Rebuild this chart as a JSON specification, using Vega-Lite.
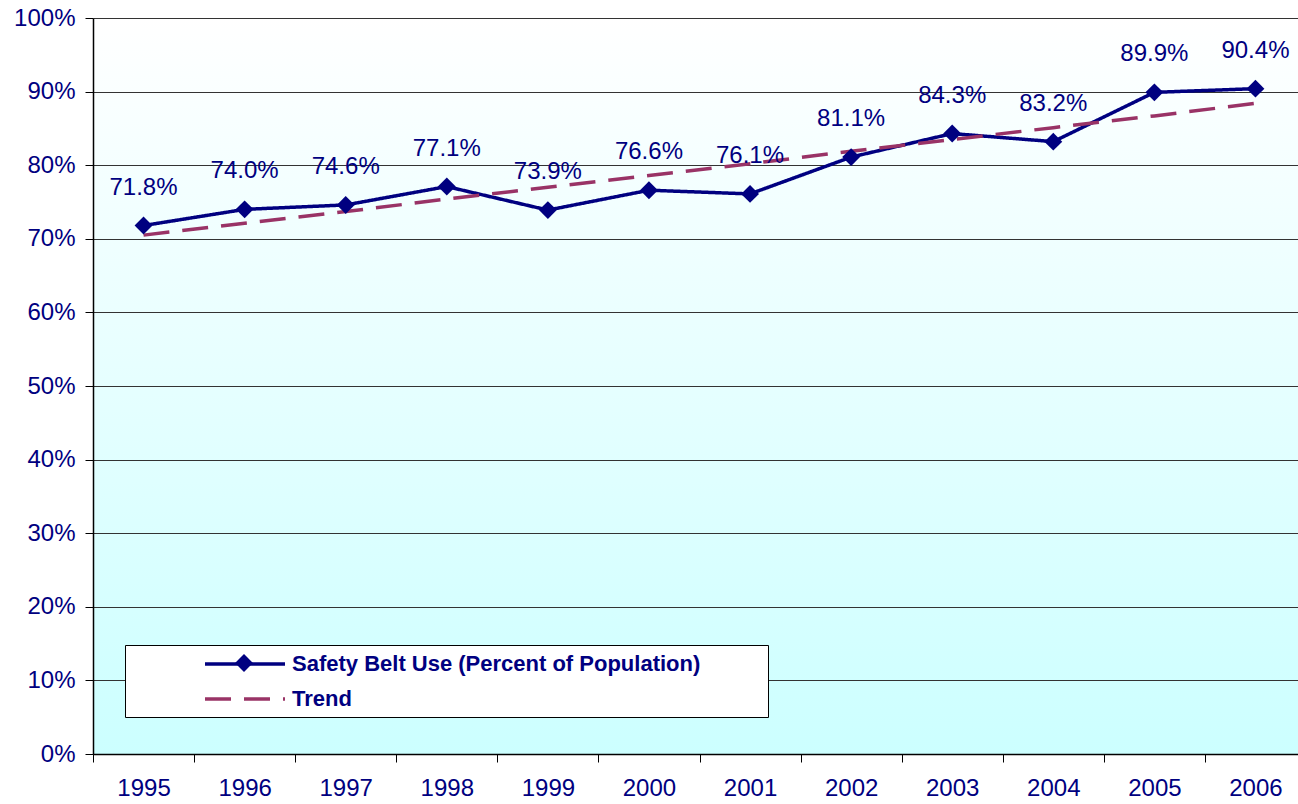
{
  "$schema": "https://vega.github.io/schema/vega-lite/v6.json",
  "width": 1205,
  "height": 736,
  "autosize": {"type": "none"},
  "padding": {"left": 93, "top": 18, "right": 0, "bottom": 50},
  "background": "white",
  "config": {
    "font": "Liberation Sans",
    "view": {
      "stroke": null,
      "fill": {
        "gradient": "linear", "x1": 0, "y1": 0, "x2": 0, "y2": 1,
        "stops": [{"offset": 0, "color": "#ffffff"}, {"offset": 1, "color": "#ccffff"}]
      }
    }
  },
  "data": {
    "values": [
      {"year": "1995", "series": "Safety Belt Use (Percent of Population)", "value": 0.718},
      {"year": "1996", "series": "Safety Belt Use (Percent of Population)", "value": 0.740},
      {"year": "1997", "series": "Safety Belt Use (Percent of Population)", "value": 0.746},
      {"year": "1998", "series": "Safety Belt Use (Percent of Population)", "value": 0.771},
      {"year": "1999", "series": "Safety Belt Use (Percent of Population)", "value": 0.739},
      {"year": "2000", "series": "Safety Belt Use (Percent of Population)", "value": 0.766},
      {"year": "2001", "series": "Safety Belt Use (Percent of Population)", "value": 0.761},
      {"year": "2002", "series": "Safety Belt Use (Percent of Population)", "value": 0.811},
      {"year": "2003", "series": "Safety Belt Use (Percent of Population)", "value": 0.843},
      {"year": "2004", "series": "Safety Belt Use (Percent of Population)", "value": 0.832},
      {"year": "2005", "series": "Safety Belt Use (Percent of Population)", "value": 0.899},
      {"year": "2006", "series": "Safety Belt Use (Percent of Population)", "value": 0.904},
      {"year": "1995", "series": "Trend", "value": 0.705},
      {"year": "1996", "series": "Trend", "value": 0.721},
      {"year": "1997", "series": "Trend", "value": 0.737},
      {"year": "1998", "series": "Trend", "value": 0.754},
      {"year": "1999", "series": "Trend", "value": 0.770},
      {"year": "2000", "series": "Trend", "value": 0.786},
      {"year": "2001", "series": "Trend", "value": 0.802},
      {"year": "2002", "series": "Trend", "value": 0.819},
      {"year": "2003", "series": "Trend", "value": 0.835},
      {"year": "2004", "series": "Trend", "value": 0.851},
      {"year": "2005", "series": "Trend", "value": 0.867},
      {"year": "2006", "series": "Trend", "value": 0.884}
    ]
  },
  "encoding": {
    "x": {
      "field": "year", "type": "ordinal",
      "scale": {"type": "band", "paddingInner": 0, "paddingOuter": 0, "range": [0, 1213]},
      "axis": {
        "title": null, "labelAngle": 0, "labelFontSize": 24, "labelColor": "#000080",
        "tickBand": "extent", "tickSize": 8, "tickColor": "#000000", "domainColor": "#000000",
        "domainWidth": 1.5, "labelPadding": 14, "grid": false
      }
    },
    "y": {
      "field": "value", "type": "quantitative",
      "scale": {"domain": [0, 1], "nice": false},
      "axis": {
        "title": null, "format": "0%", "values": [0, 0.1, 0.2, 0.3, 0.4, 0.5, 0.6, 0.7, 0.8, 0.9, 1.0],
        "labelFontSize": 24, "labelColor": "#000080", "tickSize": 8, "tickColor": "#000000",
        "labelPadding": 10, "domainColor": "#000000", "domainWidth": 1.5,
        "grid": true, "gridColor": "#333333", "gridWidth": 1
      }
    }
  },
  "layer": [
    {
      "mark": {"type": "line", "strokeWidth": 3.5},
      "encoding": {
        "color": {
          "field": "series", "type": "nominal",
          "scale": {"domain": ["Safety Belt Use (Percent of Population)", "Trend"], "range": ["#000080", "#993366"]},
          "legend": {
            "title": "\u00a0", "titleOrient": "right", "titlePadding": 61, "titleFontSize": 11,
            "orient": "none", "legendX": 32, "legendY": 627,
            "labelFontSize": 22, "labelFontWeight": "bold", "labelColor": "#000080", "labelLimit": 2000,
            "symbolSize": 400, "symbolStrokeWidth": 3.5, "symbolType": "M-4,0H4",
            "padding": 7, "rowPadding": 12, "strokeColor": "#000000", "fillColor": "#ffffff",
            "symbolOffset": 101, "labelOffset": 35, "zindex": 1
          }
        },
        "strokeDash": {
          "field": "series", "type": "nominal",
          "scale": {"domain": ["Safety Belt Use (Percent of Population)", "Trend"], "range": [[1, 0], [26, 13]]},
          "legend": {
            "title": "\u00a0", "titleOrient": "right", "titlePadding": 61, "titleFontSize": 11,
            "orient": "none", "legendX": 32, "legendY": 627,
            "labelFontSize": 22, "labelFontWeight": "bold", "labelColor": "#000080", "labelLimit": 2000,
            "symbolSize": 400, "symbolStrokeWidth": 3.5, "symbolType": "M-4,0H4",
            "padding": 7, "rowPadding": 12, "strokeColor": "#000000", "fillColor": "#ffffff",
            "symbolOffset": 101, "labelOffset": 35, "zindex": 1
          }
        }
      }
    },
    {
      "transform": [{"filter": "datum.series === 'Safety Belt Use (Percent of Population)'"}],
      "mark": {"type": "point", "filled": true, "size": 320, "color": "#000080", "opacity": 1},
      "encoding": {
        "shape": {
          "datum": "Safety",
          "scale": {"range": ["diamond"]},
          "legend": {
            "title": null, "orient": "none", "legendX": 141, "legendY": 635,
            "symbolSize": 320, "symbolType": "diamond", "symbolFillColor": "#000080",
            "symbolStrokeColor": "#000080", "symbolOpacity": 1, "padding": 0, "labelExpr": "''",
            "labelOffset": 0, "zindex": 2
          }
        }
      }
    },
    {
      "transform": [{"filter": "datum.series === 'Safety Belt Use (Percent of Population)'"}],
      "mark": {"type": "text", "dy": -38, "fontSize": 24, "color": "#000080", "baseline": "middle"},
      "encoding": {
        "text": {"field": "value", "type": "quantitative", "format": ".1%"}
      }
    }
  ]
}
